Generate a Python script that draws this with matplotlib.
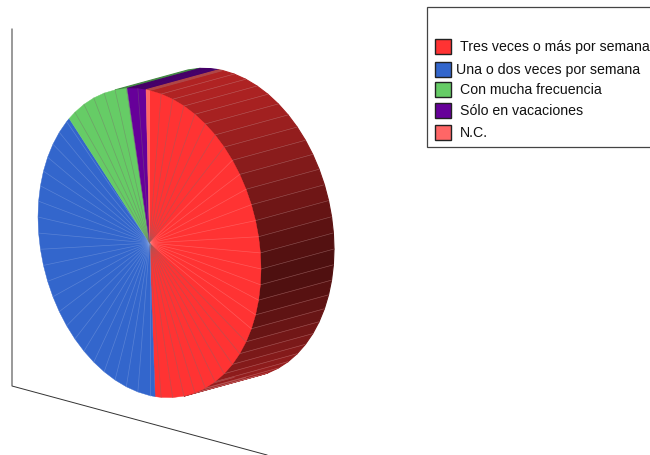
import numpy as np
import matplotlib
matplotlib.use("Agg")
import matplotlib.pyplot as plt
from matplotlib.patches import Polygon, Rectangle

labels = ["Tres veces o más por semana", "Una o dos veces por semana",
          "Con mucha frecuencia", "Sólo en vacaciones", "N.C."]
values = [49.2, 38.0, 9.6, 2.7, 0.5]
colors = ["#ff3333", "#3366cc", "#66cc66", "#660099", "#ff6666"]

plt.rcParams["font.family"] = ["Liberation Sans", "DejaVu Sans"]
fig = plt.figure(figsize=(6.5, 4.55), dpi=100)
ax = fig.add_axes([0, 0, 1, 1])
ax.set_xlim(0, 650)
ax.set_ylim(455, 0)
ax.axis("off")

# projection of the pie disc onto the page
CX, CY, RX, RY, SKEW = 149.5, 243.0, 111.5, 152.5, 26.0
DX, DY = 73.0, -20.0
STEP = 6.0


def rim(theta):
    t = np.radians(theta)
    return np.array([CX + RX * np.sin(t), CY - RY * np.cos(t) + SKEW * np.sin(t)])


def rgb(c):
    return np.array(matplotlib.colors.to_rgb(c))


def facet_grid(a, b):
    g = np.arange(np.ceil(a / STEP) * STEP, b, STEP)
    return np.unique(np.concatenate([[a], g, [b]]))


fractions = np.array(values) / np.sum(values)
edges = np.concatenate([[0.0], np.cumsum(fractions) * 360.0])

# axis lines
ax.plot([12, 12, 267], [29, 386, 455], color="#333333", lw=0.7, zorder=1)

# side wall
d = np.array([DX, DY])
for i, col in enumerate(colors):
    grid = facet_grid(edges[i], edges[i + 1])
    for a, b in zip(grid[:-1], grid[1:]):
        p, q = rim(a), rim(b)
        if (q - p)[0] * d[1] - (q - p)[1] * d[0] > 0:
            continue
        mid = 0.5 * (a + b)
        f = 0.30 + 0.39 * abs(np.sin(np.radians(mid - 95.0))) ** 1.3
        c = rgb(col) * f
        ax.add_patch(Polygon([p, q, q + d, p + d], closed=True, facecolor=c,
                             edgecolor=c, lw=0.8, zorder=2))
for a in facet_grid(edges[0], edges[1])[1:-1]:
    p = rim(a)
    ax.plot([p[0], p[0] + DX], [p[1], p[1] + DY], color="#d09a9a", alpha=0.45, lw=0.45, zorder=3)

# front face
for i, col in enumerate(colors):
    grid = facet_grid(edges[i], edges[i + 1])
    poly = [(CX, CY)] + [tuple(rim(t)) for t in grid]
    ax.add_patch(Polygon(poly, closed=True, facecolor=col, edgecolor=col, lw=0.3, zorder=4))
    for t in grid[1:-1]:
        p = rim(t)
        light = i == 1 or (i == 0 and 45 < t < 115)
        color = "#ff8888" if (light and i == 0) else ("#86a4e2" if light else "#7a6a6a")
        ax.plot([CX, p[0]], [CY, p[1]], color=color, alpha=0.45, lw=0.5, zorder=5)

# legend
ax.add_patch(Rectangle((427, 7), 224, 140, facecolor="white", edgecolor="#444444", lw=0.9, zorder=6))
swatch_y = [46.5, 69, 89.5, 110, 132]
text_y = [47, 69.5, 90, 110.5, 132.5]
text_x = [459.5, 455.5, 459.5, 459.5, 459.5]
for sy, ty, x, lab, col in zip(swatch_y, text_y, text_x, labels, colors):
    ax.add_patch(Rectangle((435, sy - 7.5), 16, 15, facecolor=col, edgecolor="#222222", lw=1.0, zorder=7))
    ax.text(x, ty + 0.5, lab, fontsize=10.15, color="#111111", va="center", ha="left", zorder=8)

fig.savefig("out.png", dpi=100)
